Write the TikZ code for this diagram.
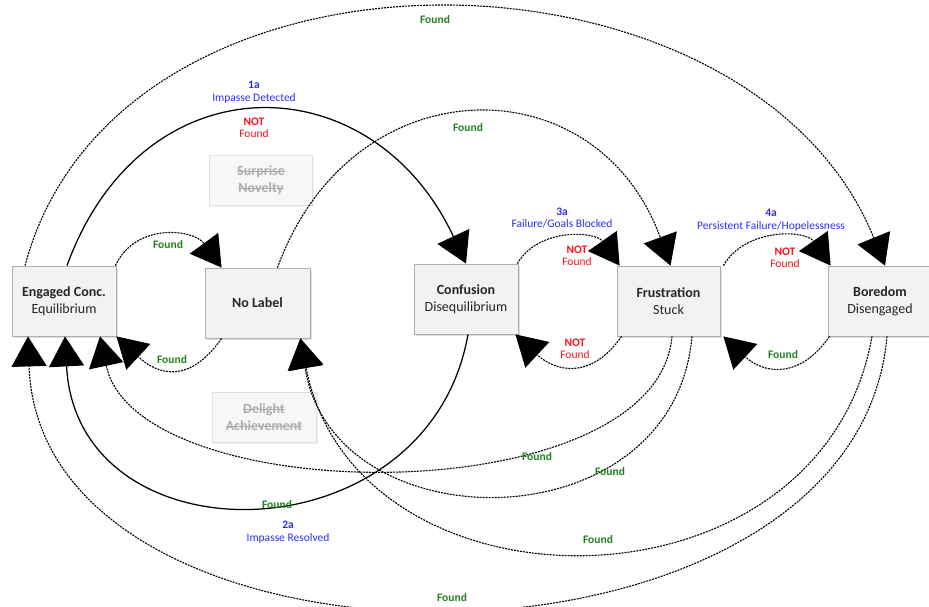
\documentclass[tikz,border=0pt]{standalone}
\usepackage{fontspec}
\setmainfont{Carlito}
\usepackage{xcolor}
\usetikzlibrary{arrows.meta,shadows}

\definecolor{foundgreen}{RGB}{34,128,30}
\definecolor{notred}{RGB}{245,20,30}
\definecolor{causeblue}{RGB}{45,45,250}
\definecolor{boxfill}{RGB}{242,242,242}
\definecolor{boxline}{RGB}{175,175,175}

% struck-out text for the faded states
\newsavebox\strkbox
\newcommand\strk[1]{\sbox\strkbox{#1}\rlap{\rule[0.3em]{\wd\strkbox}{0.6pt}}\usebox\strkbox}

\begin{document}
\begin{tikzpicture}[x=1pt, y=1pt, >={Triangle[length=30pt,width=35pt]},
  emobox/.style={draw=boxline, fill=boxfill, line width=0.8pt,
    minimum width=104pt, minimum height=70pt, inner sep=2pt, align=center,
    text=black!85, font=\fontsize{14}{17}\selectfont,
    drop shadow={shadow xshift=1.5pt, shadow yshift=-1.5pt, opacity=0.25}},
  ghost/.style={draw=black!12, fill=black!3, line width=0.8pt,
    minimum width=103pt, minimum height=50pt, inner sep=2pt, align=center,
    text=black!32, font=\fontsize{14}{17}\selectfont\bfseries,
    drop shadow={shadow xshift=1.5pt, shadow yshift=-1.5pt, opacity=0.12}},
  lbl/.style={align=center, inner sep=0pt, font=\fontsize{11.5}{12.5}\selectfont},
  found/.style={lbl, text=foundgreen, font=\fontsize{11.5}{12.5}\selectfont\bfseries},
  notfound/.style={lbl, text=notred},
  cause/.style={lbl, text=causeblue},
  link/.style={->, line width=1.25pt},
  dlink/.style={->, line width=1.1pt, dash pattern=on 2pt off 1pt}]

  \useasboundingbox (0,0) rectangle (929,-607);

  % --- 1. States ---
  \node[emobox] (eng) at (64,-301) {\textbf{Engaged Conc.}\\Equilibrium};
  \node[emobox, minimum width=105pt] (nolabel) at (257.5,-303) {\textbf{No Label}};
  \node[emobox] (conf) at (466,-299) {\textbf{Confusion}\\Disequilibrium};
  \node[emobox, minimum width=103pt] (frus) at (668.5,-301) {\textbf{Frustration}\\Stuck};
  \node[emobox] (bore) at (880,-301) {\textbf{Boredom}\\Disengaged};

  % faded states
  \node[ghost] (surp) at (261,-180) {\strk{Surprise}\\\strk{Novelty}};
  \node[ghost, minimum width=104pt] (deli) at (264,-417) {\strk{Delight}\\\strk{Achievement}};

  % --- 2. Impasse circle (solid) ---
  \draw[link] ([xshift=3pt]eng.north) to[out=70, in=115, looseness=1.42] (conf.north);
  \draw[link] ([xshift=2pt]conf.south) to[out=260, in=273, looseness=1.45] ([xshift=1pt]eng.south);

  % --- 3. Long arcs over the top ---
  \draw[dlink] ([xshift=-39pt]eng.north) to[out=75, in=112, looseness=1.08] ([xshift=5pt]bore.north);
  \draw[dlink] ([xshift=20pt]nolabel.north) to[out=70, in=110, looseness=1.41] ([xshift=2pt]frus.north);

  % --- 4. Small loops between neighbours ---
  \draw[dlink] ([xshift=-1pt]eng.north east) to[out=65, in=126, looseness=1.15] ([xshift=17pt]nolabel.north west);
  \draw[dlink] ([xshift=17pt]nolabel.south west) to[out=235, in=317, looseness=1.37] (eng.south east);
  \draw[dlink] ([xshift=-1pt]conf.north east) to[out=60, in=125, looseness=1.05] ([xshift=3pt]frus.north west);
  \draw[dlink] ([xshift=5pt]frus.south west) to[out=235, in=317, looseness=1.3] ([xshift=-3pt]conf.south east);
  \draw[dlink] ([xshift=3pt]frus.north east) to[out=60, in=125, looseness=1.05] ([xshift=3pt]bore.north west);
  \draw[dlink] ([xshift=2pt]bore.south west) to[out=235, in=317, looseness=1.3] ([xshift=3pt]frus.south east);

  % --- 5. Long arcs underneath ---
  \draw[dlink] ([xshift=3.5pt]frus.south) to[out=265, in=282, looseness=0.8] ([xshift=36pt]eng.south);
  \draw[dlink] ([xshift=23.5pt]frus.south) to[out=265, in=279, looseness=1.37] ([xshift=-10pt]nolabel.south east);
  \draw[dlink] ([xshift=-8pt]bore.south) to[out=260, in=281, looseness=1.3] ([xshift=-10pt]nolabel.south east);
  \draw[dlink] ([xshift=7pt]bore.south) to[out=265, in=272, looseness=1.085] ([xshift=-36pt]eng.south);

  % --- 6. Labels ---
  \node[cause] (l1a) at (254,-92) {\textbf{1a}\\Impasse Detected};
  \node[notfound] (n1a) at (254,-128) {\textbf{NOT}\\Found};
  \node[found] (ftop) at (435,-20) {Found};
  \node[found] (fnol) at (468,-128) {Found};
  \node[found] (fhi) at (168,-245) {Found};
  \node[found] (flo) at (172,-360) {Found};
  \node[cause] (l3a) at (562,-218) {\textbf{3a}\\Failure/Goals Blocked};
  \node[notfound] (n3a) at (577,-256) {\textbf{NOT}\\Found};
  \node[notfound] (nback) at (575,-349) {\textbf{NOT}\\Found};
  \node[cause] (l4a) at (771,-220) {\textbf{4a}\\Persistent Failure/Hopelessness};
  \node[notfound] (n4a) at (785,-258) {\textbf{NOT}\\Found};
  \node[found] (fbf) at (783,-355) {Found};
  \node[found] (ffe) at (537,-457) {Found};
  \node[found] (ffn) at (610,-472) {Found};
  \node[found] (fbn) at (598,-540) {Found};
  \node[found] (fbe) at (452,-598) {Found};
  \node[found] (f2a) at (277,-505) {Found};
  \node[cause] (l2a) at (288,-532) {\textbf{2a}\\Impasse Resolved};

\end{tikzpicture}
\end{document}
